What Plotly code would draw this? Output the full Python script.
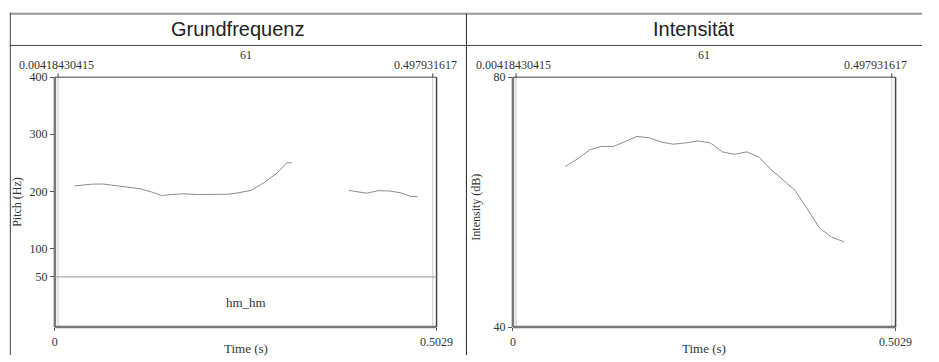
import plotly.graph_objects as go

# ---- data ----
pitch_t1 = [0.0262, 0.0477, 0.0628, 0.0864, 0.1122, 0.1273, 0.1415, 0.1487, 0.1680,
            0.1896, 0.2282, 0.2411, 0.2583, 0.2756, 0.2927, 0.3056, 0.3121]
pitch_hz1 = [209.5, 212.4, 212.9, 209.0, 204.5, 198.9, 192.2, 193.9, 195.6,
             194.4, 194.9, 197.2, 201.6, 215.1, 232.0, 250.0, 250.0]
pitch_t2 = [0.3872, 0.4001, 0.4110, 0.4259, 0.4410, 0.4561, 0.4690, 0.4775]
pitch_hz2 = [201.6, 199.4, 196.6, 201.1, 200.6, 197.2, 191.0, 190.5]

int_t = [0.0686, 0.0845, 0.1007, 0.1154, 0.1325, 0.1488, 0.1630, 0.1788, 0.1959, 0.2109,
         0.2280, 0.2431, 0.2594, 0.2752, 0.2911, 0.3074, 0.3237, 0.3396, 0.3546, 0.3708,
         0.3868, 0.4030, 0.4189, 0.4351]
int_db = [65.69, 66.88, 68.35, 68.92, 68.92, 69.80, 70.51, 70.31, 69.58, 69.28,
          69.49, 69.80, 69.49, 68.05, 67.65, 68.05, 67.18, 65.18, 63.54, 61.89,
          58.92, 55.85, 54.41, 53.65]

t_end = 0.5029
sel_start = 0.00418430415
sel_end = 0.497931617
sel_start_label = "0.00418430415"
sel_end_label = "0.497931617"
mid_label = "61"
tier_label = "hm_hm"
tier_line_hz = 50
pitch_ticks = [400, 300, 200, 100, 50]
int_ticks = [40, 80]
x_ticks = [0, t_end]
x_ticktext = ["0", "0.5029"]
panel_titles = ["Grundfrequenz", "Intensität"]

W, H = 939, 362
def px(x): return x / W
def py(y): return 1 - y / H

SERIF = "Liberation Serif, Times New Roman, serif"
SANS = "Liberation Sans, Arial, sans-serif"
TXT = "#333333"
CURVE = "#8c8c8c"

fig = go.Figure()
fig.add_trace(go.Scatter(x=pitch_t1, y=pitch_hz1, mode="lines",
                         line=dict(color=CURVE, width=1), xaxis="x", yaxis="y", showlegend=False))
fig.add_trace(go.Scatter(x=pitch_t2, y=pitch_hz2, mode="lines",
                         line=dict(color=CURVE, width=1), xaxis="x", yaxis="y", showlegend=False))
fig.add_trace(go.Scatter(x=int_t, y=int_db, mode="lines",
                         line=dict(color=CURVE, width=1), xaxis="x2", yaxis="y2", showlegend=False))

dom_y = [py(333), py(73)]
dom_x1 = [px(53), px(443)]
dom_x2 = [px(521), px(912)]

common_x = dict(range=[0, t_end], showgrid=False, zeroline=False, showline=False,
                tickvals=x_ticks, ticktext=x_ticktext, ticks="outside", ticklen=3,
                tickcolor="#555", tickfont=dict(family=SERIF, size=12, color=TXT),
                fixedrange=True)
common_y = dict(showgrid=False, zeroline=False, showline=False, ticks="outside",
                ticklen=4, tickcolor="#555",
                tickfont=dict(family=SERIF, size=12, color=TXT), fixedrange=True)

fig.update_layout(
    autosize=True, margin=dict(l=0, r=0, t=0, b=0, pad=0),
    paper_bgcolor="white", plot_bgcolor="white",
    xaxis=dict(domain=dom_x1, anchor="y", **common_x),
    yaxis=dict(domain=dom_y, anchor="x", range=[-38, 400], tickvals=pitch_ticks, **common_y),
    xaxis2=dict(domain=dom_x2, anchor="y2", **common_x),
    yaxis2=dict(domain=dom_y, anchor="x2", range=[40, 80], tickvals=int_ticks, **common_y),
)

shapes = []
# outer panel borders
shapes.append(dict(type="line", xref="paper", yref="paper", x0=px(7), x1=1, y0=py(7), y1=py(7),
                   line=dict(color="#999999", width=2)))
shapes.append(dict(type="line", xref="paper", yref="paper", x0=px(7), x1=1, y0=py(40), y1=py(40),
                   line=dict(color="#444444", width=1)))
shapes.append(dict(type="line", xref="paper", yref="paper", x0=px(7.5), x1=px(7.5), y0=py(6), y1=0,
                   line=dict(color="#444444", width=1)))
shapes.append(dict(type="line", xref="paper", yref="paper", x0=px(473.5), x1=px(473.5), y0=py(7), y1=0,
                   line=dict(color="#222222", width=1)))

for xa, ya in (("x", "y"), ("x2", "y2")):
    xd, yd = xa + " domain", ya + " domain"
    # selection markers (light lines)
    for t in (sel_start, sel_end):
        shapes.append(dict(type="line", xref=xa, yref=yd, x0=t, x1=t, y0=0, y1=1,
                           line=dict(color="#c8c8c8", width=1)))
        shapes.append(dict(type="line", xref=xa, yref="paper", x0=t, x1=t, y0=py(73), y1=py(69),
                           line=dict(color="#444444", width=1)))
    # frame
    shapes.append(dict(type="line", xref=xd, yref=yd, x0=0, x1=0, y0=0, y1=1,
                       line=dict(color="#777777", width=2.5)))
    shapes.append(dict(type="line", xref=xd, yref=yd, x0=0, x1=1, y0=0, y1=0,
                       line=dict(color="#777777", width=2.5)))
    shapes.append(dict(type="line", xref=xd, yref=yd, x0=0, x1=1, y0=1, y1=1,
                       line=dict(color="#444444", width=1)))
    shapes.append(dict(type="line", xref=xd, yref=yd, x0=1, x1=1, y0=0, y1=1,
                       line=dict(color="#444444", width=1.5)))

# tier boundary line at 50 Hz
shapes.append(dict(type="line", xref="x domain", yref="y", x0=0, x1=1, y0=tier_line_hz, y1=tier_line_hz,
                   line=dict(color="#999999", width=1)))

fig.update_layout(shapes=shapes)

ann = []
# panel titles
ann.append(dict(text=panel_titles[0], x=px(240), y=py(23), xref="paper", yref="paper",
                showarrow=False, font=dict(family=SANS, size=20, color="#222"),
                xanchor="center", yanchor="middle"))
ann.append(dict(text=panel_titles[1], x=px(706), y=py(23), xref="paper", yref="paper",
                showarrow=False, font=dict(family=SANS, size=20, color="#222"),
                xanchor="center", yanchor="middle"))
for xa, right_px, left_center in (("x", 465, 55), ("x2", 925, 522)):
    ann.append(dict(text=mid_label, x=0.5, y=py(50), xref=xa + " domain", yref="paper",
                    showarrow=False, font=dict(family=SERIF, size=12, color=TXT),
                    xanchor="center", yanchor="middle"))
    ann.append(dict(text=sel_start_label, x=px(left_center), y=py(60.5), xref="paper", yref="paper",
                    showarrow=False, font=dict(family=SERIF, size=12, color=TXT), borderpad=0,
                    xanchor="center", yanchor="middle"))
    ann.append(dict(text=sel_end_label, x=px(right_px), y=py(60.5), xref="paper", yref="paper",
                    showarrow=False, font=dict(family=SERIF, size=12, color=TXT), borderpad=0,
                    xanchor="right", yanchor="middle"))
    ann.append(dict(text="Time (s)", x=0.5, y=py(355), xref=xa + " domain", yref="paper",
                    showarrow=False, font=dict(family=SERIF, size=13, color=TXT),
                    xanchor="center", yanchor="middle"))
ann.append(dict(text="Pitch (Hz)", x=px(14), y=py(203), xref="paper", yref="paper", textangle=-90,
                showarrow=False, font=dict(family=SERIF, size=12, color=TXT),
                xanchor="center", yanchor="middle"))
ann.append(dict(text="Intensity (dB)", x=px(483), y=py(208), xref="paper", yref="paper", textangle=-90,
                showarrow=False, font=dict(family=SERIF, size=12, color=TXT),
                xanchor="center", yanchor="middle"))
ann.append(dict(text=tier_label, x=0.5, y=py(307), xref="x domain", yref="paper",
                showarrow=False, font=dict(family=SERIF, size=13, color=TXT),
                xanchor="center", yanchor="middle"))
fig.update_layout(annotations=ann)

# the graph div is taken out of the page flow and pinned to the top-left corner,
# so the page is exactly 939x362 and nothing is offset by the body margin
fig.write_html("out.html",
               config={"displayModeBar": False, "responsive": True},
               default_width="939px;position:absolute;left:0;top:0",
               default_height="362px")
